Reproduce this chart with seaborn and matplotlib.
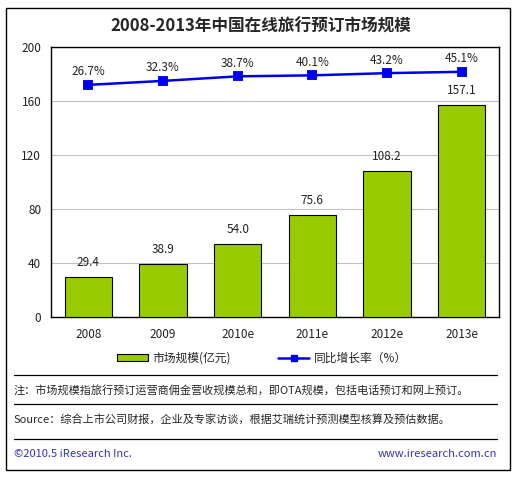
import pandas as pd
import matplotlib
matplotlib.use('Agg')
import matplotlib.pyplot as plt
import seaborn as sns
from matplotlib.lines import Line2D
from matplotlib.patches import Patch

# chart data
years = ['2008', '2009', '2010e', '2011e', '2012e', '2013e']
market_size = [29.4, 38.9, 54.0, 75.6, 108.2, 157.1]
growth_rate = [26.7, 32.3, 38.7, 40.1, 43.2, 45.1]

title = '2008-2013年中国在线旅行预订市场规模'
bar_label = '市场规模(亿元)'
line_label = '同比增长率（%）'
note = '注：市场规模指旅行预订运营商佣金营收规模总和，即OTA规模，包括电话预订和网上预订。'
source = 'Source：综合上市公司财报，企业及专家访谈，根据艾瑞统计预测模型核算及预估数据。'
footer_left = '©2010.5 iResearch Inc.'
footer_right = 'www.iresearch.com.cn'

df = pd.DataFrame({'year': years, 'size': market_size, 'rate': growth_rate})

sns.set_style('white')
plt.rcParams['font.family'] = ['Noto Sans CJK SC', 'DejaVu Sans']

W, H = 520, 478
fig = plt.figure(figsize=(W / 100, H / 100), dpi=100)

def fx(px):
    return px / W

def fy(py):
    return 1 - py / H

# outer frame
fig.patches.append(plt.Rectangle((fx(6), fy(470)), fx(504), 462 / H, transform=fig.transFigure,
                                 fill=False, edgecolor='black', linewidth=1))

ax = fig.add_axes([fx(51), fy(317), 448 / W, 270 / H])
sns.barplot(data=df, x='year', y='size', color='#99cc00', edgecolor='black', linewidth=0.8,
            width=0.63, saturation=1, ax=ax, zorder=3)
ax.set_ylim(0, 200)
ax.set_xlim(-0.5, 5.5)
ax.set_yticks([0, 40, 80, 120, 160, 200])
ax.yaxis.grid(True, color='#c0c0c0', linewidth=0.8, zorder=0)
ax.set_axisbelow(True)
for s in ax.spines.values():
    s.set_color('black')
    s.set_linewidth(1.0)
ax.set_xlabel('')
ax.set_ylabel('')
ax.tick_params(axis='both', length=0, labelsize=8.5, colors='#222222')
ax.tick_params(axis='x', pad=8)
ax.tick_params(axis='y', pad=7)
for i, v in enumerate(market_size):
    ax.text(i, v + 6, f'{v:.1f}', ha='center', va='bottom', fontsize=8.5, color='#222222')

ax2 = ax.twinx()
sns.pointplot(data=df, x='year', y='rate', color='#0000ee', markers='s', markersize=6,
              linewidth=1.8, ax=ax2)
ax2.set_ylim(-300, 80)
ax2.set_xlim(-0.5, 5.5)
ax2.set_yticks([])
ax2.set_ylabel('')
ax2.set_xlabel('')
for s in ax2.spines.values():
    s.set_visible(False)
for i, v in enumerate(growth_rate):
    ax2.text(i, v + 9, f'{v:.1f}%', ha='center', va='bottom', fontsize=8.5, color='#222222')

fig.text(fx(261), fy(27), title, ha='center', va='center', fontsize=12, fontweight='bold')

handles = [Patch(facecolor='#99cc00', edgecolor='black', linewidth=0.8),
           Line2D([0], [0], color='#0000ee', linewidth=1.8, marker='s', markersize=5)]
fig.legend(handles, [bar_label, line_label], loc='center', bbox_to_anchor=(fx(262), fy(358)),
           ncol=2, frameon=False, fontsize=8.5, handlelength=2.6, handleheight=0.5,
           columnspacing=4, handletextpad=0.4)

for py in [375, 404, 439]:
    fig.add_artist(Line2D([fx(14), fx(497)], [fy(py), fy(py)], color='black', linewidth=0.9))

fig.text(fx(14), fy(390), note, ha='left', va='center', fontsize=8)
fig.text(fx(14), fy(419), source, ha='left', va='center', fontsize=8)
fig.text(fx(14), fy(454), footer_left, ha='left', va='center', fontsize=8, color='#3333bb')
fig.text(fx(497), fy(454), footer_right, ha='right', va='center', fontsize=8, color='#3333bb')

fig.savefig('out.png', dpi=100)
